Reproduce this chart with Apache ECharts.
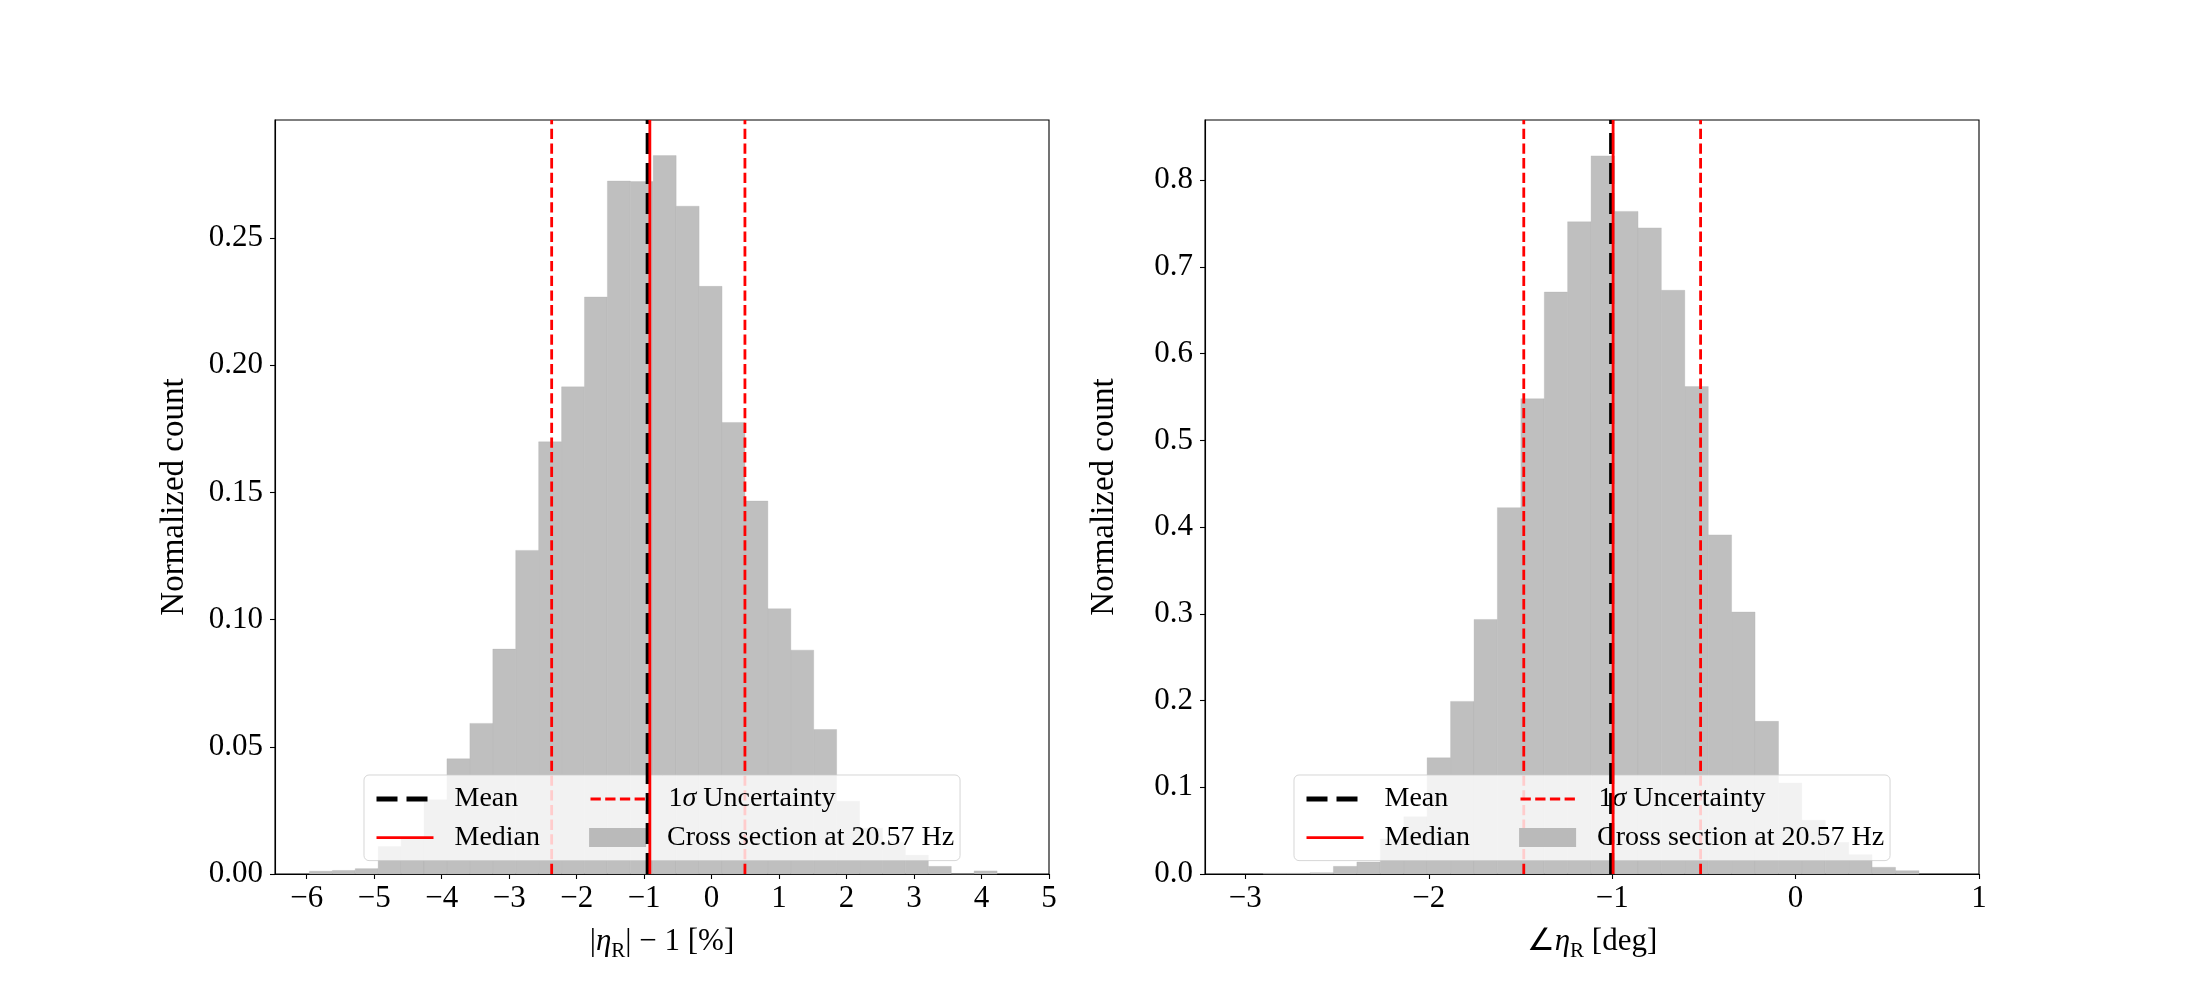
<!DOCTYPE html>
<html><head><meta charset="utf-8">
<script src="https://cdn.jsdelivr.net/npm/echarts@6/dist/echarts.min.js"></script>
<style>html,body{margin:0;padding:0;background:#fff}#c{width:2200px;height:1000px}</style>
</head><body><div id="c"></div>
<script>
// ---------- data ----------
const leftBinEdges = [-5.960,-5.620,-5.281,-4.941,-4.601,-4.262,-3.922,-3.582,-3.242,-2.903,-2.563,-2.223,-1.884,-1.544,-1.204,-0.865,-0.525,-0.185,0.155,0.494,0.834,1.174,1.513,1.853,2.193,2.533,2.872,3.212,3.552,3.891,4.231];
const leftCounts = [0.0011,0.0014,0.0021,0.0108,0.0138,0.0292,0.0453,0.0592,0.0884,0.1272,0.1699,0.1915,0.2268,0.2724,0.2722,0.2824,0.2625,0.2310,0.1775,0.1466,0.1043,0.0880,0.0568,0.0286,0.0180,0.0124,0.0074,0.0030,0.0000,0.0012];
const leftMean = -0.94, leftMedian = -0.915, leftSigma = [-2.37, 0.494];
const leftXTicks = [-6,-5,-4,-3,-2,-1,0,1,2,3,4,5];
const leftYTicks = [0,0.05,0.10,0.15,0.20,0.25];

const rightBinEdges = [-2.903,-2.775,-2.647,-2.520,-2.392,-2.264,-2.136,-2.009,-1.881,-1.753,-1.626,-1.498,-1.370,-1.243,-1.115,-0.987,-0.859,-0.732,-0.604,-0.476,-0.349,-0.221,-0.093,0.034,0.162,0.290,0.417,0.545,0.673];
const rightCounts = [0.0008,0.0008,0.0015,0.0088,0.0138,0.0404,0.066,0.134,0.199,0.2935,0.4224,0.548,0.671,0.752,0.828,0.764,0.745,0.673,0.562,0.391,0.302,0.176,0.105,0.062,0.0365,0.0223,0.0077,0.0038];
const rightMean = -1.003, rightMedian = -0.995, rightSigma = [-1.482, -0.518];
const rightXTicks = [-3,-2,-1,0,1];
const rightYTicks = [0,0.1,0.2,0.3,0.4,0.5,0.6,0.7,0.8];

const legendNames = ['Mean','1σ Uncertainty','Median','Cross section at 20.57 Hz'];

// ---------- chart ----------
const FONT = 'Liberation Serif';
const chart = echarts.init(document.getElementById('c'), null, {renderer:'canvas'});

const panels = [
  {edges:leftBinEdges, counts:leftCounts, mean:leftMean, median:leftMedian, sigma:leftSigma,
   xTicks:leftXTicks, yTicks:leftYTicks, xMin:-6.47, xMax:5, yMax:0.2964, yDec:2,
   grid:{left:275, top:120, width:774, height:754}, legendLeft:364,
   xName:'|{i|η}{s|R}| − 1 [%]'},
  {edges:rightBinEdges, counts:rightCounts, mean:rightMean, median:rightMedian, sigma:rightSigma,
   xTicks:rightXTicks, yTicks:rightYTicks, xMin:-3.22, xMax:1, yMax:0.8694, yDec:1,
   grid:{left:1205, top:120, width:774, height:754}, legendLeft:1294,
   xName:'∠{i|η}{s|R} [deg]'}
];

const fmtNum = v => v < 0 ? '\u2212' + (-v) : String(v);
const tickStyle = {color:'#000', width:1.1};

const grids = [], xAxes = [], yAxes = [], series = [], legends = [];
panels.forEach((p, k) => {
  grids.push(Object.assign({show:true, borderColor:'#000', borderWidth:1.1, backgroundColor:'transparent'}, p.grid));
  xAxes.push({
    type:'value', gridIndex:k, min:p.xMin, max:p.xMax,
    axisLine:{show:true, onZero:false, lineStyle:tickStyle},
    axisTick:{show:true, length:5, customValues:p.xTicks, lineStyle:tickStyle},
    axisLabel:{customValues:p.xTicks, formatter:fmtNum, fontFamily:FONT, fontSize:31, color:'#000', margin:9},
    splitLine:{show:false},
    name:p.xName, nameLocation:'middle', nameGap:48,
    nameTextStyle:{fontFamily:FONT, fontSize:31, color:'#000', lineHeight:40,
      rich:{i:{fontFamily:FONT, fontStyle:'italic', fontSize:31, lineHeight:40, verticalAlign:'middle'},
            s:{fontFamily:FONT, fontSize:21, lineHeight:21, verticalAlign:'bottom'}}}
  });
  yAxes.push({
    type:'value', gridIndex:k, min:0, max:p.yMax,
    axisLine:{show:true, onZero:false, lineStyle:tickStyle},
    axisTick:{show:true, length:5, customValues:p.yTicks, lineStyle:tickStyle},
    axisLabel:{customValues:p.yTicks, formatter:v => v.toFixed(p.yDec), fontFamily:FONT, fontSize:31, color:'#000', margin:12},
    splitLine:{show:false},
    name:'Normalized count', nameLocation:'middle', nameGap:84,
    nameTextStyle:{fontFamily:FONT, fontSize:33, color:'#000'}
  });
  const histData = p.counts.map((c, i) => [p.edges[i], p.edges[i+1], c]);
  series.push({
    type:'custom', name:'Cross section at 20.57 Hz', xAxisIndex:k, yAxisIndex:k, z:2,
    itemStyle:{color:'#bababa'},
    encode:{x:[0,1], y:2},
    data:histData,
    renderItem:(params, api) => {
      const p0 = api.coord([api.value(0), 0]);
      const p1 = api.coord([api.value(1), api.value(2)]);
      return {type:'rect', shape:{x:p0[0], y:p1[1], width:p1[0]-p0[0], height:p0[1]-p1[1]},
              style:{fill:'#bfbfbf', stroke:'rgba(175,175,175,0.5)', lineWidth:0.6}};
    }
  });
  p.sigma.forEach(s => series.push({
    type:'line', name:'1σ Uncertainty', xAxisIndex:k, yAxisIndex:k, z:3, symbol:'none', silent:true,
    lineStyle:{color:'#ff0000', width:2.8, type:[10.3,4.4]},
    data:[[s,0],[s,p.yMax]]
  }));
  series.push({
    type:'line', name:'Mean', xAxisIndex:k, yAxisIndex:k, z:4, symbol:'none', silent:true,
    lineStyle:{color:'#000', width:5, type:[21,9]},
    data:[[p.mean,0],[p.mean,p.yMax]]
  });
  series.push({
    type:'line', name:'Median', xAxisIndex:k, yAxisIndex:k, z:5, symbol:'none', silent:true,
    lineStyle:{color:'#ff0000', width:2.8, type:'solid'},
    data:[[p.median,0],[p.median,p.yMax]]
  });
  legends.push({
    left:p.legendLeft, top:775, orient:'horizontal', width:585,
    itemWidth:57, itemHeight:19, itemGap:8.6,
    padding:[9,6,8,10],
    backgroundColor:'rgba(255,255,255,0.8)', borderColor:'rgba(204,204,204,0.8)', borderWidth:1, borderRadius:5,
    selectedMode:false,
    textStyle:{fontFamily:FONT, fontSize:28, color:'#000', lineHeight:30, padding:[0,0,0,16],
      rich:{i:{fontFamily:FONT, fontStyle:'italic', fontSize:28, lineHeight:30}}},
    formatter:n => n === '1σ Uncertainty' ? '1{i|σ} Uncertainty' : n,
    data:[
      {name:legendNames[0], textStyle:{width:126}, itemStyle:{opacity:0}, lineStyle:{width:5}},
      {name:legendNames[1], textStyle:{width:285}, itemStyle:{opacity:0}, lineStyle:{width:2.8}},
      {name:legendNames[2], textStyle:{width:126}, itemStyle:{opacity:0}, lineStyle:{width:2.8}},
      {name:legendNames[3], textStyle:{width:285}, icon:'rect'}
    ]
  });
});

chart.setOption({
  animation:false,
  backgroundColor:'#fff',
  grid:grids, xAxis:xAxes, yAxis:yAxes, legend:legends, series:series
});
</script>
</body></html>
